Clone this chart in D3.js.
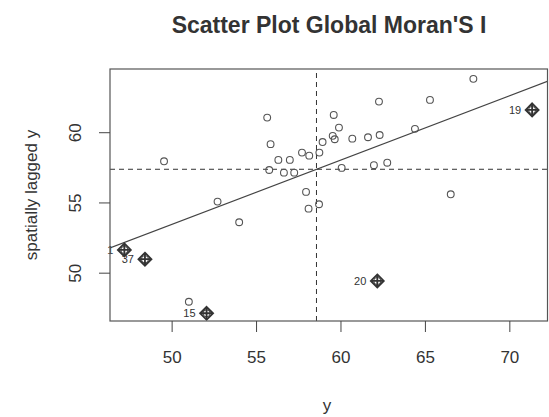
<!DOCTYPE html>
<html>
<head>
<meta charset="utf-8">
<script src="https://cdn.jsdelivr.net/npm/d3@7"></script>
<style>
  body { margin: 0; background: #fff; }
  text { font-family: "Liberation Sans", Arial, sans-serif; fill: #333; }
</style>
</head>
<body>
<div id="chart"></div>
<script>
const yValues = [49.55, 55.66, 55.86, 56.32, 57.00, 55.78, 56.65, 57.26, 57.72, 58.15,
                 57.96, 58.11, 58.73, 52.72, 54.00, 58.75, 58.94, 59.54, 59.66, 59.60,
                 59.91, 60.70, 61.63, 62.32, 64.41, 62.28, 65.30, 67.87, 60.07, 61.98,
                 62.77, 66.53, 51.02, 71.35, 62.18, 52.07, 48.42, 47.20];
const laggedValues = [57.93, 61.04, 59.15, 58.03, 58.03, 57.31, 57.12, 57.12, 58.55, 58.33,
                      55.75, 54.56, 54.87, 55.06, 53.59, 58.55, 59.30, 59.74, 59.50, 61.23,
                      60.33, 59.54, 59.64, 59.80, 60.24, 62.18, 62.30, 63.80, 57.46, 57.65,
                      57.83, 55.58, 47.93, 61.59, 49.41, 47.11, 50.96, 51.62];
// influential observations: index into the arrays above and their label
const influentialIdx = [33, 34, 35, 36, 37];
const influentialLabels = ["19", "20", "15", "37", "1"];

const xTicks = [50, 55, 60, 65, 70];
const yTicks = [50, 55, 60];

const width = 549, height = 417;
const margin = { top: 69, right: 1, bottom: 96, left: 110 };

const svg = d3.select("#chart").append("svg")
    .attr("width", width)
    .attr("height", height);

const x = d3.scaleLinear().domain([46.35, 72.29]).range([margin.left, width - margin.right]);
const y = d3.scaleLinear().domain([46.56, 64.5]).range([height - margin.bottom, margin.top]);

const points = yValues.map((v, i) => ({ x: v, wx: laggedValues[i] }));

// regression of lagged y on y
const mx = d3.mean(yValues), my = d3.mean(laggedValues);
const slope = d3.sum(points, p => (p.x - mx) * (p.wx - my)) / d3.sum(points, p => (p.x - mx) ** 2);
const intercept = my - slope * mx;

svg.append("defs").append("clipPath").attr("id", "plotClip")
    .append("rect")
    .attr("x", x.range()[0]).attr("y", y.range()[1])
    .attr("width", x.range()[1] - x.range()[0])
    .attr("height", y.range()[0] - y.range()[1]);

const plot = svg.append("g").attr("clip-path", "url(#plotClip)");

// fitted line
const [x0, x1] = x.domain();
plot.append("line")
    .attr("x1", x(x0)).attr("y1", y(intercept + slope * x0))
    .attr("x2", x(x1)).attr("y2", y(intercept + slope * x1))
    .attr("stroke", "#444").attr("stroke-width", 1.1);

// mean lines
plot.append("line")
    .attr("x1", x(x0)).attr("x2", x(x1))
    .attr("y1", y(my)).attr("y2", y(my))
    .attr("stroke", "#333").attr("stroke-dasharray", "5,4");
plot.append("line")
    .attr("x1", x(mx)).attr("x2", x(mx))
    .attr("y1", y.range()[0]).attr("y2", y.range()[1])
    .attr("stroke", "#333").attr("stroke-dasharray", "5,4");

// points
plot.append("g")
    .selectAll("circle")
    .data(points)
    .enter().append("circle")
    .attr("cx", d => x(d.x))
    .attr("cy", d => y(d.wx))
    .attr("r", 3.4)
    .attr("fill", "none")
    .attr("stroke", "#555")
    .attr("stroke-width", 1.1);

// influential points: diamond with cross
const infl = influentialIdx.map((idx, i) => ({ ...points[idx], label: influentialLabels[i] }));
const s = 6.5;
const ig = svg.append("g")
    .selectAll("g")
    .data(infl)
    .enter().append("g")
    .attr("transform", d => `translate(${x(d.x)},${y(d.wx)})`);
ig.append("path")
    .attr("d", `M0,${-s}L${s},0L0,${s}L${-s},0Z M0,${-s}V${s} M${-s},0H${s}`)
    .attr("fill", "none")
    .attr("stroke", "#333")
    .attr("stroke-width", 1.8);
ig.append("text")
    .attr("x", -11)
    .attr("dy", "0.35em")
    .attr("text-anchor", "end")
    .attr("font-size", 11)
    .text(d => d.label);

// box
svg.append("rect")
    .attr("x", x.range()[0]).attr("y", y.range()[1])
    .attr("width", x.range()[1] - x.range()[0] - 0.5)
    .attr("height", y.range()[0] - y.range()[1])
    .attr("fill", "none")
    .attr("stroke", "#555")
    .attr("stroke-width", 1.2);

// x axis
const xAxis = svg.append("g")
    .attr("transform", `translate(0,${y.range()[0]})`)
    .call(d3.axisBottom(x).tickValues(xTicks).tickSize(11).tickPadding(19));
xAxis.select(".domain").remove();
xAxis.selectAll("line").attr("stroke", "#444");
xAxis.selectAll("text").attr("font-size", 17).attr("fill", "#444");

// y axis, labels rotated like R's default
const yAxis = svg.append("g")
    .attr("transform", `translate(${x.range()[0]},0)`)
    .call(d3.axisLeft(y).tickValues(yTicks).tickSize(11).tickPadding(0));
yAxis.select(".domain").remove();
yAxis.selectAll("line").attr("stroke", "#444");
yAxis.selectAll("text")
    .attr("font-size", 17).attr("fill", "#444")
    .attr("x", 0).attr("dy", 0)
    .attr("text-anchor", "middle")
    .attr("transform", "translate(-35,0) rotate(-90)")
    .attr("dominant-baseline", "central");

// titles
svg.append("text")
    .attr("x", (x.range()[0] + x.range()[1]) / 2)
    .attr("y", 33)
    .attr("text-anchor", "middle")
    .attr("font-size", 23)
    .attr("font-weight", "bold")
    .attr("fill", "#222")
    .text("Scatter Plot Global Moran'S I");

svg.append("text")
    .attr("x", (x.range()[0] + x.range()[1]) / 2 - 2)
    .attr("y", 411)
    .attr("text-anchor", "middle")
    .attr("font-size", 17)
    .attr("fill", "#444")
    .text("y");

svg.append("text")
    .attr("transform", `translate(37,${(y.range()[0] + y.range()[1]) / 2}) rotate(-90)`)
    .attr("text-anchor", "middle")
    .attr("font-size", 17)
    .attr("fill", "#444")
    .text("spatially lagged y");
</script>
</body>
</html>
